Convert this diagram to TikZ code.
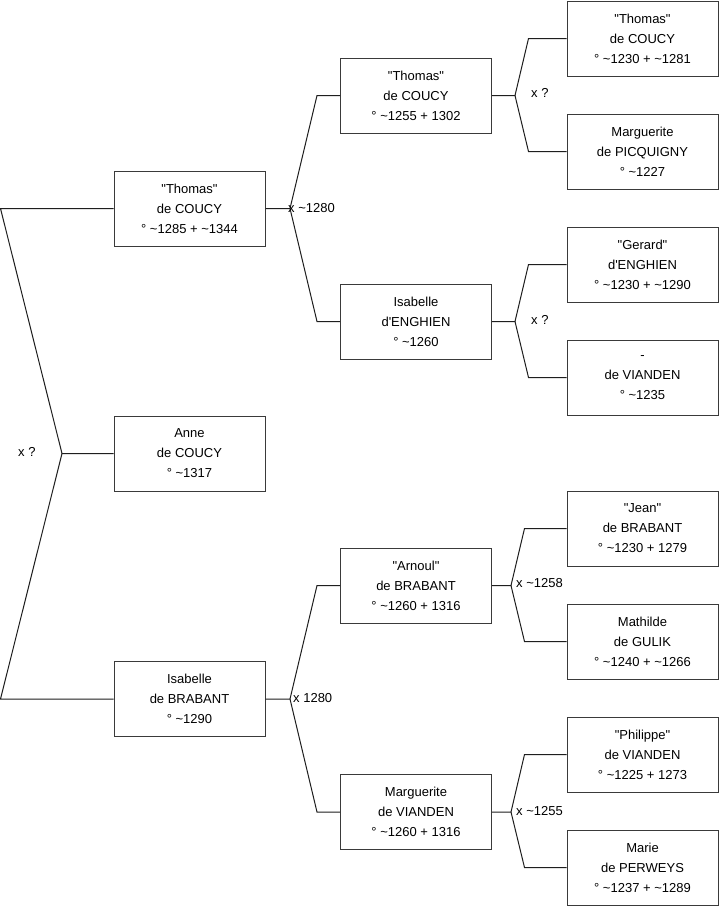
\documentclass[tikz,border=0pt]{standalone}
\usepackage{fontspec}
\setmainfont{Liberation Sans}
\newfontfamily\boxfont{Liberation Sans}
\usepackage{xcolor}
\definecolor{Ink}{HTML}{000000}
\definecolor{Frame}{HTML}{3A3A3A}
\definecolor{Line}{HTML}{1E1E1E}
\definecolor{Panel}{HTML}{FFFFFF}
\newcommand{\ca}{\textasciitilde}

\begin{document}
\begin{tikzpicture}[x=1pt,y=-1pt,
  person/.style={draw=Frame,line width=1pt,minimum width=151pt,minimum height=75pt,
    inner sep=0pt,align=center,text=Ink,font=\boxfont\fontsize{13}{20}\selectfont},
  marriage/.style={anchor=west,inner sep=0pt,text=Ink,font=\boxfont\fontsize{13}{16}\selectfont},
  link/.style={draw=Line,line width=1pt}]
\path[use as bounding box,fill=Panel] (0,0) rectangle (719,908);
% generation 1
\node[person] (anne) at (189.5,453.5) {Anne\\de COUCY\\° \ca1317};
% generation 2
\node[person] (thomasA) at (189.5,208.5) {"Thomas"\\de COUCY\\° \ca1285 + \ca1344};
\node[person] (isabelleB) at (189.5,699) {Isabelle\\de BRABANT\\° \ca1290};
% generation 3
\node[person] (thomasB) at (416,95.5) {"Thomas"\\de COUCY\\° \ca1255 + 1302};
\node[person] (isabelleE) at (416,321.5) {Isabelle\\d'ENGHIEN\\° \ca1260};
\node[person] (arnoul) at (416,585.5) {"Arnoul"\\de BRABANT\\° \ca1260 + 1316};
\node[person] (margueriteV) at (416,812) {Marguerite\\de VIANDEN\\° \ca1260 + 1316};
% generation 4
\node[person] (thomasC) at (642.5,38.5) {"Thomas"\\de COUCY\\° \ca1230 + \ca1281};
\node[person] (margueriteP) at (642.5,151.5) {Marguerite\\de PICQUIGNY\\° \ca1227};
\node[person] (gerard) at (642.5,264.5) {"Gerard"\\d'ENGHIEN\\° \ca1230 + \ca1290};
\node[person] (vianden) at (642.5,377.5) {-\\de VIANDEN\\° \ca1235};
\node[person] (jean) at (642.5,528.5) {"Jean"\\de BRABANT\\° \ca1230 + 1279};
\node[person] (mathilde) at (642.5,641.5) {Mathilde\\de GULIK\\° \ca1240 + \ca1266};
\node[person] (philippe) at (642.5,754.5) {"Philippe"\\de VIANDEN\\° \ca1225 + 1273};
\node[person] (marie) at (642.5,867.5) {Marie\\de PERWEYS\\° \ca1237 + \ca1289};

% forks
\coordinate (fAnne) at (62,453.5);
\coordinate (fThomasA) at (290,208.5);
\coordinate (fIsabelleB) at (290,699);
\coordinate (fThomasB) at (515,95.5);
\coordinate (fIsabelleE) at (515,321.5);
\coordinate (fArnoul) at (511,585.5);
\coordinate (fMargueriteV) at (511,812);

\path[link] (anne.west) -- (fAnne) -- ([xshift=-113pt]thomasA.west) -- (thomasA.west);
\path[link] (fAnne) -- ([xshift=-113pt]isabelleB.west) -- (isabelleB.west);

\path[link] (thomasA.east) -- (fThomasA) -- ([xshift=-23pt]thomasB.west) -- (thomasB.west);
\path[link] (fThomasA) -- ([xshift=-23pt]isabelleE.west) -- (isabelleE.west);
\path[link] (isabelleB.east) -- (fIsabelleB) -- ([xshift=-23pt]arnoul.west) -- (arnoul.west);
\path[link] (fIsabelleB) -- ([xshift=-23pt]margueriteV.west) -- (margueriteV.west);

\path[link] (thomasB.east) -- (fThomasB) -- ([xshift=-38pt]thomasC.west) -- (thomasC.west);
\path[link] (fThomasB) -- ([xshift=-38pt]margueriteP.west) -- (margueriteP.west);
\path[link] (isabelleE.east) -- (fIsabelleE) -- ([xshift=-38pt]gerard.west) -- (gerard.west);
\path[link] (fIsabelleE) -- ([xshift=-38pt]vianden.west) -- (vianden.west);
\path[link] (arnoul.east) -- (fArnoul) -- ([xshift=-42pt]jean.west) -- (jean.west);
\path[link] (fArnoul) -- ([xshift=-42pt]mathilde.west) -- (mathilde.west);
\path[link] (margueriteV.east) -- (fMargueriteV) -- ([xshift=-42pt]philippe.west) -- (philippe.west);
\path[link] (fMargueriteV) -- ([xshift=-42pt]marie.west) -- (marie.west);

% marriages
\node[marriage] (mAnne) at (18,452) {x ?};
\node[marriage] (mThomasA) at (288,208) {x \ca1280};
\node[marriage] (mIsabelleB) at (293,698) {x 1280};
\node[marriage] (mThomasB) at (531,93) {x ?};
\node[marriage] (mIsabelleE) at (531,320) {x ?};
\node[marriage] (mArnoul) at (516,583) {x \ca1258};
\node[marriage] (mMargueriteV) at (516,811) {x \ca1255};
\end{tikzpicture}
\end{document}
